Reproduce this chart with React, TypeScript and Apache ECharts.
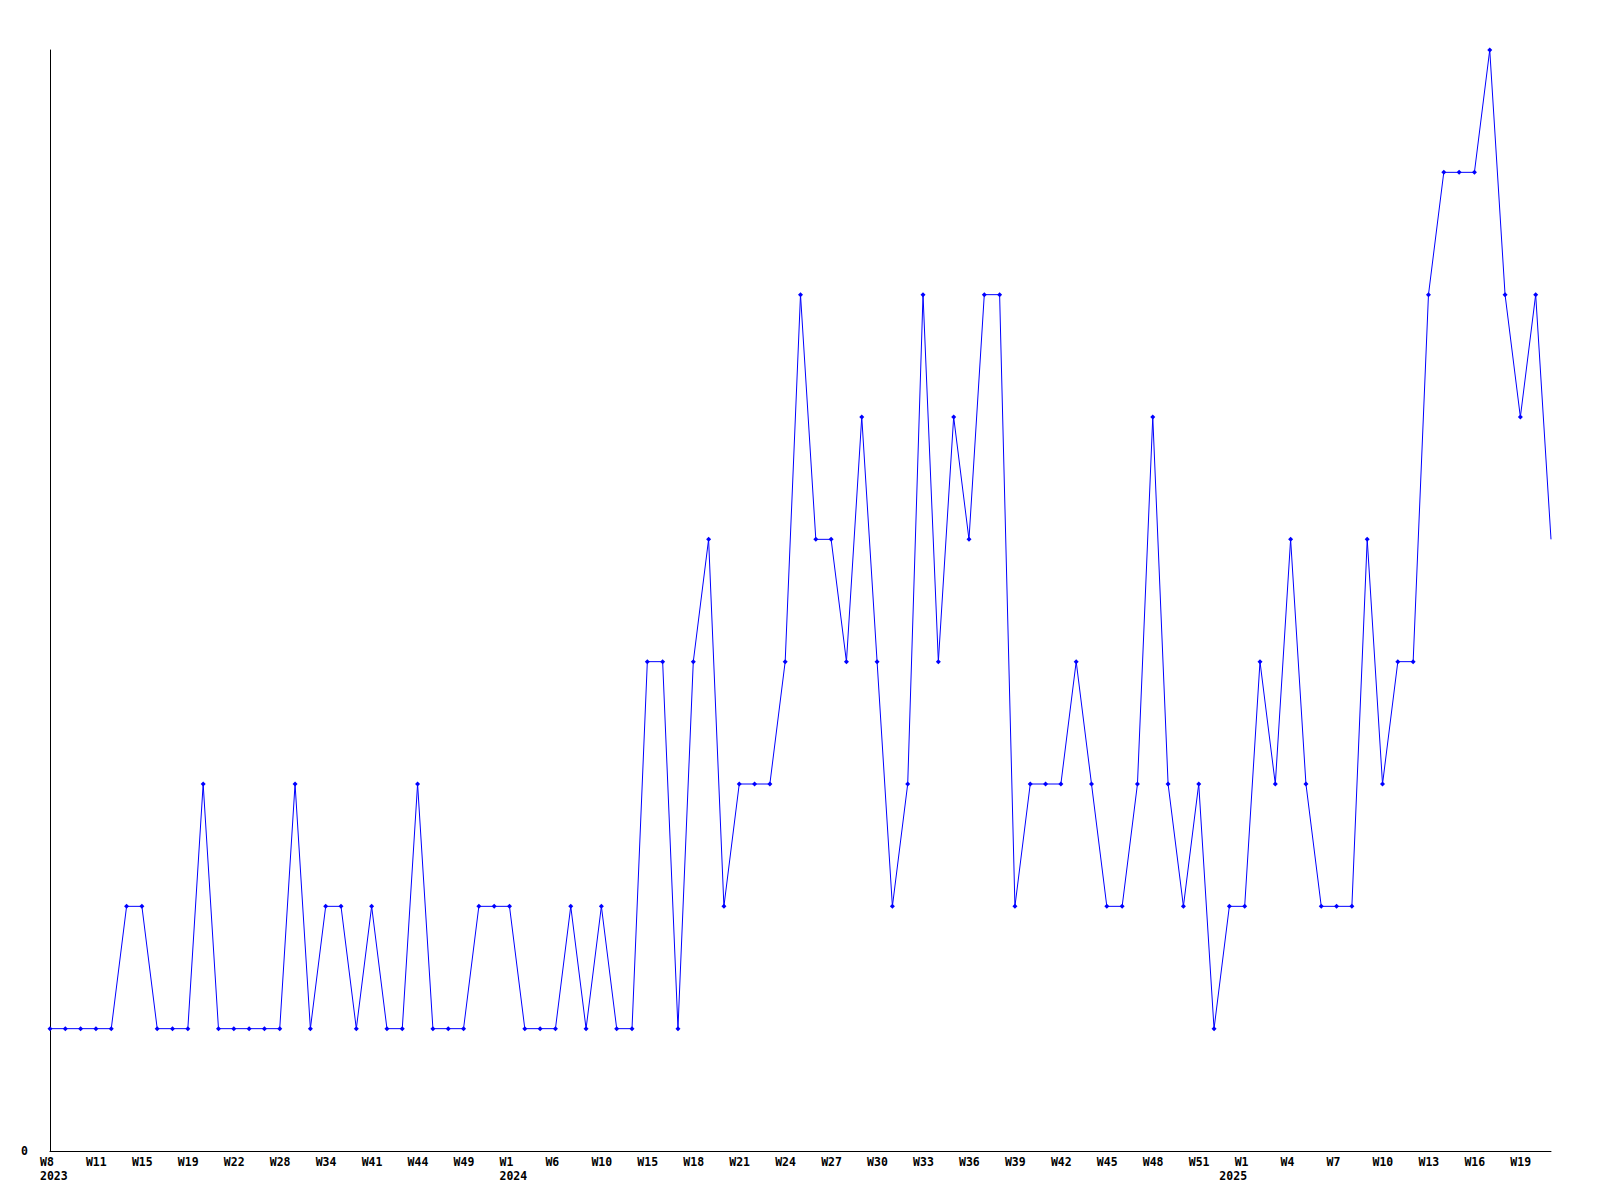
import React, { useEffect, useRef } from "react";
import * as echarts from "echarts";

// Week categories (every third one is labelled on the axis)
const weeks: string[] = [
  "W8", "W9", "W10", "W11", "W12", "W14", "W15", "W16", "W18", "W19",
  "W20", "W21", "W22", "W24", "W26", "W28", "W30", "W32", "W34", "W36",
  "W39", "W41", "W42", "W43", "W44", "W46", "W47", "W49", "W50", "W52",
  "W1", "W3", "W4", "W6", "W7", "W8", "W10", "W12", "W14", "W15",
  "W16", "W17", "W18", "W19", "W20", "W21", "W22", "W23", "W24", "W25",
  "W26", "W27", "W28", "W29", "W30", "W31", "W32", "W33", "W34", "W35",
  "W36", "W37", "W38", "W39", "W40", "W41", "W42", "W43", "W44", "W45",
  "W46", "W47", "W48", "W49", "W50", "W51", "W52", "W53", "W1", "W2",
  "W3", "W4", "W5", "W6", "W7", "W8", "W9", "W10", "W11", "W12",
  "W13", "W14", "W15", "W16", "W17", "W18", "W19", "W20", "W21",
];

// Year labels shown on the second label line (category index -> year)
const yearStarts: [number, string][] = [
  [0, "2023"],
  [30, "2024"],
  [77, "2025"],
];

const values: number[] = [
  1, 1, 1, 1, 1, 2, 2, 1, 1, 1,
  3, 1, 1, 1, 1, 1, 3, 1, 2, 2,
  1, 2, 1, 1, 3, 1, 1, 1, 2, 2,
  2, 1, 1, 1, 2, 1, 2, 1, 1, 4,
  4, 1, 4, 5, 2, 3, 3, 3, 4, 7,
  5, 5, 4, 6, 4, 2, 3, 7, 4, 6,
  5, 7, 7, 2, 3, 3, 3, 4, 3, 2,
  2, 3, 6, 3, 2, 3, 1, 2, 2, 4,
  3, 5, 3, 2, 2, 2, 5, 3, 4, 4,
  7, 8, 8, 8, 9, 7, 6, 7, 5,
];

const yMin = 0;
const yMax = 9;
const labelEvery = 3;

export default function App() {
  const ref = useRef<HTMLDivElement>(null);

  useEffect(() => {
    if (!ref.current) return;
    const chart = echarts.init(ref.current, undefined, { renderer: "svg" });
    const yearMap = new Map<number, string>(yearStarts);
    const font = "'DejaVu Sans Mono', 'Liberation Mono', monospace";

    const data = values.map((v, i) =>
      i === values.length - 1 ? { value: v, symbol: "none" } : v
    );

    chart.setOption({
      animation: false,
      backgroundColor: "#ffffff",
      grid: { left: 50, right: 49, top: 50, bottom: 49, containLabel: false },
      xAxis: {
        type: "category",
        data: weeks,
        boundaryGap: false,
        axisLine: { show: true, lineStyle: { color: "#000", width: 1 } },
        axisTick: { show: false },
        splitLine: { show: false },
        axisLabel: {
          interval: (idx: number) => idx % labelEvery === 0 || yearMap.has(idx),
          margin: 4,
          align: "center",
          formatter: (val: string, idx: number) => {
            const y = yearMap.get(idx);
            const top = idx % labelEvery === 0 ? val : " ";
            return y ? `{a|${top}}\n{a|${y}}` : `{a|${top}}`;
          },
          rich: {
            a: {
              width: 20,
              height: 14,
              align: "left",
              fontFamily: font,
              fontWeight: "bold",
              fontSize: 11.5,
              lineHeight: 14,
              color: "#000",
            },
          },
        },
      },
      yAxis: {
        type: "value",
        min: yMin,
        max: yMax,
        interval: 9,
        axisLine: { show: true, lineStyle: { color: "#000", width: 1 } },
        axisTick: { show: false },
        splitLine: { show: false },
        axisLabel: {
          margin: 22,
          formatter: (v: number) => (v === 0 ? "0" : ""),
          fontFamily: font,
          fontWeight: "bold",
          fontSize: 11.5,
          color: "#000",
        },
      },
      series: [
        {
          type: "line",
          data,
          symbol: "diamond",
          symbolSize: 5,
          showAllSymbol: true,
          lineStyle: { color: "#0000ff", width: 1 },
          itemStyle: { color: "#0000ff" },
          clip: false,
        },
      ],
    });

    return () => chart.dispose();
  }, []);

  return (
    <div
      ref={ref}
      style={{ position: "fixed", left: 0, top: 0, width: 1600, height: 1200 }}
    />
  );
}
